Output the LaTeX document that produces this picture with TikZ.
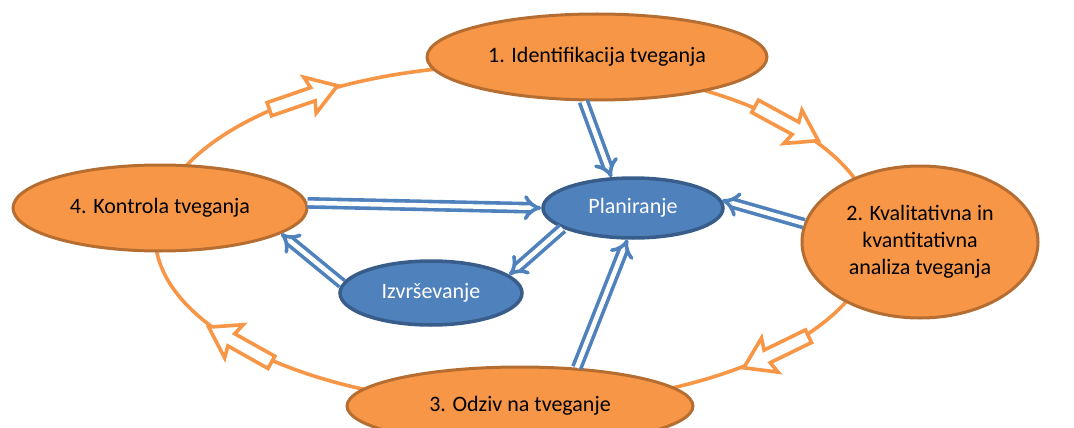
\documentclass[tikz,border=0pt]{standalone}
\usepackage{fontspec}
\setmainfont{Carlito}
\usetikzlibrary{shapes.geometric, arrows.meta}

\definecolor{riskorange}{HTML}{F79646}
\definecolor{orangeedge}{HTML}{B66D31}
\definecolor{riskblue}{HTML}{4F81BD}
\definecolor{blueedge}{HTML}{385D8A}

\tikzset{
  ringline/.style={draw=riskorange, line width=3.6pt},
  ringarrow/.pic={
    \draw[ringline, fill=white, line join=miter]
      (-36,-7) -- (10,-7) -- (7,-19) -- (36,0) -- (7,19) -- (10,7) -- (-36,7) -- cycle;
  },
}

\begin{document}
\begin{tikzpicture}[x=1pt, y=-1pt,
    phase/.style={ellipse, draw=orangeedge, line width=3pt, fill=riskorange,
      inner sep=0pt, align=center, font=\fontsize{22}{27}\selectfont},
    core/.style={ellipse, draw=blueedge, line width=3.5pt, fill=riskblue, text=white,
      inner sep=0pt, font=\fontsize{22}{26}\selectfont},
    flow/.style={draw=riskblue, double=white, line width=3.6pt, double distance=4.5pt,
      -{Implies}},
  ]
    \clip (0,0) rectangle (1074,428);
    \useasboundingbox (0,0) rectangle (1074,428);

    % outer cycle
    \draw[ringline] (515,235) ellipse [x radius=360, y radius=170];
    \foreach \t/\a in {126/19, 41/-28.5, -43.5/206, 220.2/150.7} {
        \pic[rotate=\a] at ({515+360*cos(\t)},{235-170*sin(\t)}) {ringarrow};
    }

    \node[phase, minimum width=340, minimum height=86] (ident) at (597,57) {1. Identifikacija tveganja};
    \node[phase, minimum width=236, minimum height=152] (analiza) at (920,242) {2. Kvalitativna in\\kvantitativna\\analiza tveganja};
    \node[phase, minimum width=346, minimum height=78] (odziv) at (520,406) {3. Odziv na tveganje};
    \node[phase, minimum width=294, minimum height=86] (kontrola) at (160,208) {4. Kontrola tveganja};

    \node[core, minimum width=180, minimum height=60] (plan) at (633,208) {Planiranje};
    \node[core, minimum width=182, minimum height=64] (izv) at (431,293) {Izvrševanje};

    % flows to and from planning
    \draw[flow] (ident.-107) -- (plan.125);
    \draw[flow] (kontrola.2) -- (plan.180);
    \draw[flow] (analiza.171) -- (plan.5);
    \draw[flow] (odziv.34) -- (plan.-100);
    \draw[flow] (plan.196) -- (izv.13);
    \draw[flow] (izv.174) -- (kontrola.-12);
\end{tikzpicture}
\end{document}
